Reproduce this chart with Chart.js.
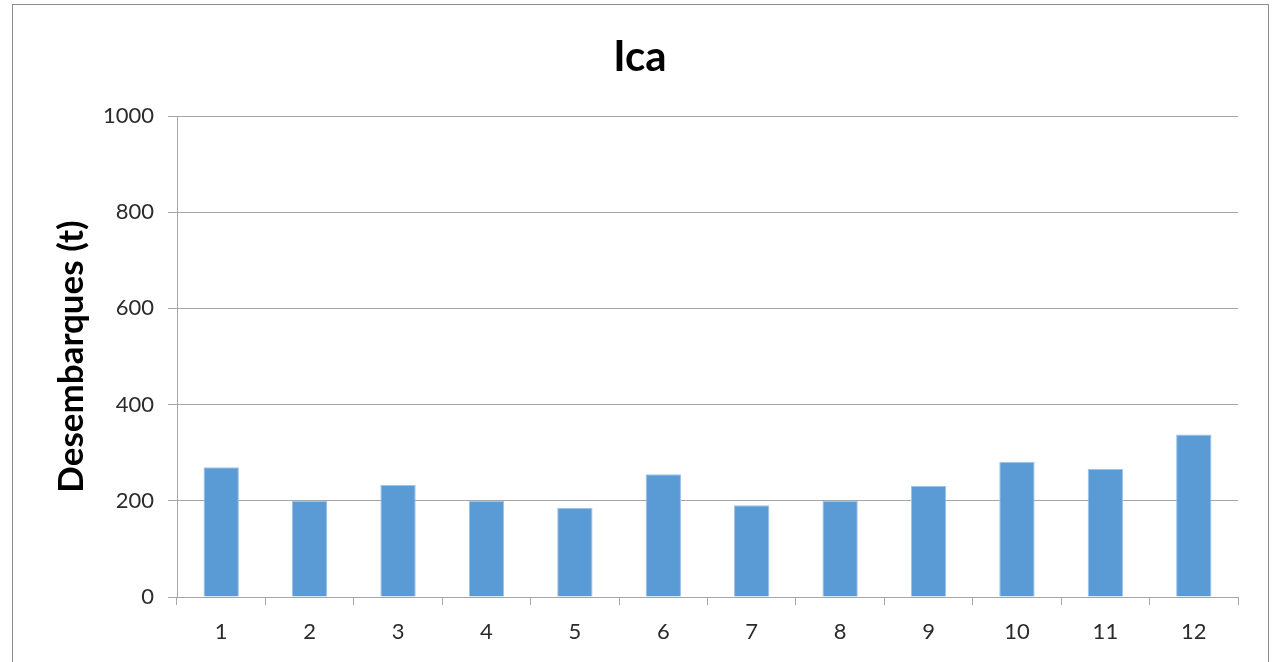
<!DOCTYPE html>
<html>
<head>
<meta charset="utf-8">
<script src="https://cdn.jsdelivr.net/npm/chart.js@4"></script>
<style>
    html, body { margin: 0; padding: 0; background: #ffffff; }
    #wrap { width: 1283px; height: 662px; }
</style>
</head>
<body>
<div id="wrap"><canvas id="chart"></canvas></div>
<script>
// months and landings (t)
const months = ['1', '2', '3', '4', '5', '6', '7', '8', '9', '10', '11', '12']
const landings = [270, 200, 233, 200, 185, 255, 191, 200, 231, 281, 266, 338]
const chart_title = 'Ica'
const y_title = 'Desembarques (t)'

const font_family = 'Lato, "Open Sans", sans-serif'

// outer frame and big title, drawn on top of the canvas
const frame_plugin = {
    id: 'frame',
    afterDraw(chart) {
        let ctx = chart.ctx
        ctx.save()
        ctx.strokeStyle = '#8c8c8c'
        ctx.lineWidth = 1
        ctx.strokeRect(12.5, 4.5, 1256, 700)
        ctx.fillStyle = '#000000'
        ctx.font = 'bold 42px ' + font_family
        ctx.textAlign = 'center'
        ctx.textBaseline = 'middle'
        ctx.fillText(chart_title, 640, 57)
        ctx.restore()
    }
}

new Chart(document.getElementById('chart'), {
    type: 'bar',
    data: {
        labels: months,
        datasets: [{
            data: landings,
            backgroundColor: '#5b9bd5',
            borderColor: '#9fc3e6',
            borderWidth: 1,
            barPercentage: 0.4,
            categoryPercentage: 1.0
        }]
    },
    options: {
        responsive: true,
        maintainAspectRatio: false,
        animation: false,
        layout: { padding: { top: 116, right: 45, bottom: 0, left: 0 } },
        plugins: {
            legend: { display: false },
            tooltip: { enabled: false },
            title: { display: false }
        },
        scales: {
            x: {
                offset: true,
                grid: {
                    offset: true,
                    drawOnChartArea: false,
                    color: '#a6a6a6',
                    tickLength: 8
                },
                border: { color: '#a6a6a6' },
                ticks: {
                    color: '#2b2b2b',
                    font: { family: font_family, size: 22 },
                    padding: 14,
                    maxRotation: 0
                },
                afterFit(scale) { scale.height = 65 }
            },
            y: {
                min: 0,
                max: 1000,
                ticks: {
                    stepSize: 200,
                    color: '#2b2b2b',
                    font: { family: font_family, size: 22 },
                    padding: 14,
                    callback: (value) => String(value)
                },
                grid: { color: '#a6a6a6', tickLength: 9 },
                border: { color: '#a6a6a6' },
                title: {
                    display: true,
                    text: y_title,
                    color: '#000000',
                    font: { family: font_family, size: 35, weight: 'bold' },
                    padding: { top: 51, bottom: 0 }
                },
                afterFit(scale) { scale.width = 177 }
            }
        }
    },
    plugins: [frame_plugin]
})
</script>
</body>
</html>
